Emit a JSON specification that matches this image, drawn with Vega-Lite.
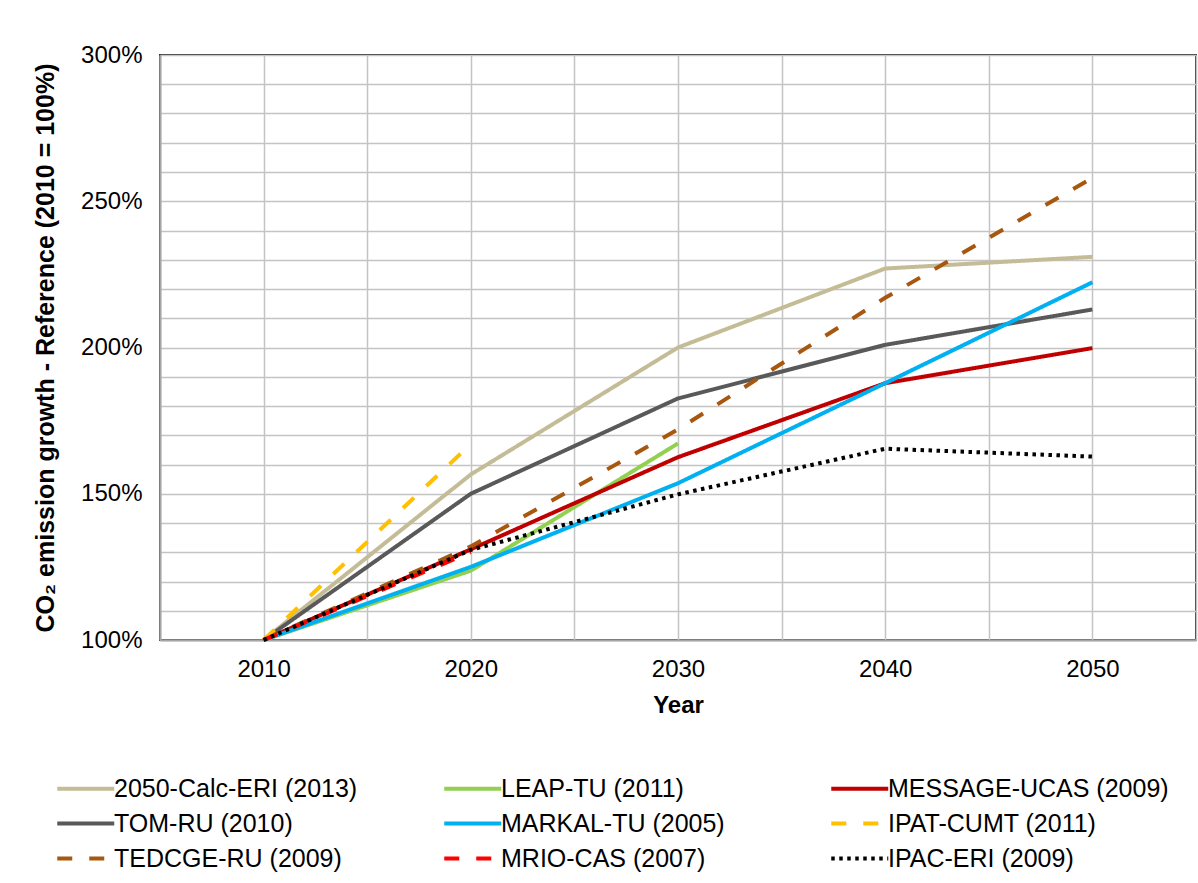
{
  "$schema": "https://vega.github.io/schema/vega-lite/v6.json",
  "width": 1036,
  "height": 585,
  "autosize": {"type": "none"},
  "padding": {"left": 160, "top": 55, "right": 2, "bottom": 243},
  "background": "white",
  "config": {
    "font": "Liberation Sans",
    "view": {"stroke": "#303030", "strokeWidth": 2}
  },
  "data": {
    "values": [
      {"model": "2050-Calc-ERI (2013)", "year": 2010, "value": 100},
      {"model": "2050-Calc-ERI (2013)", "year": 2020, "value": 156.6},
      {"model": "2050-Calc-ERI (2013)", "year": 2030, "value": 200},
      {"model": "2050-Calc-ERI (2013)", "year": 2040, "value": 227},
      {"model": "2050-Calc-ERI (2013)", "year": 2050, "value": 231},
      {"model": "LEAP-TU (2011)", "year": 2010, "value": 100},
      {"model": "LEAP-TU (2011)", "year": 2020, "value": 123.7},
      {"model": "LEAP-TU (2011)", "year": 2030, "value": 167.2},
      {"model": "MESSAGE-UCAS (2009)", "year": 2010, "value": 100},
      {"model": "MESSAGE-UCAS (2009)", "year": 2020, "value": 131},
      {"model": "MESSAGE-UCAS (2009)", "year": 2030, "value": 162.5},
      {"model": "MESSAGE-UCAS (2009)", "year": 2040, "value": 187.8},
      {"model": "MESSAGE-UCAS (2009)", "year": 2050, "value": 199.8},
      {"model": "TOM-RU (2010)", "year": 2010, "value": 100},
      {"model": "TOM-RU (2010)", "year": 2020, "value": 150},
      {"model": "TOM-RU (2010)", "year": 2030, "value": 182.6},
      {"model": "TOM-RU (2010)", "year": 2040, "value": 200.9},
      {"model": "TOM-RU (2010)", "year": 2050, "value": 213},
      {"model": "MARKAL-TU (2005)", "year": 2010, "value": 100},
      {"model": "MARKAL-TU (2005)", "year": 2020, "value": 125},
      {"model": "MARKAL-TU (2005)", "year": 2030, "value": 153.6},
      {"model": "MARKAL-TU (2005)", "year": 2040, "value": 187.8},
      {"model": "MARKAL-TU (2005)", "year": 2050, "value": 222.3},
      {"model": "IPAT-CUMT (2011)", "year": 2010, "value": 100},
      {"model": "IPAT-CUMT (2011)", "year": 2020, "value": 167},
      {"model": "TEDCGE-RU (2009)", "year": 2010, "value": 100},
      {"model": "TEDCGE-RU (2009)", "year": 2020, "value": 132},
      {"model": "TEDCGE-RU (2009)", "year": 2030, "value": 172},
      {"model": "TEDCGE-RU (2009)", "year": 2040, "value": 217},
      {"model": "TEDCGE-RU (2009)", "year": 2050, "value": 258},
      {"model": "MRIO-CAS (2007)", "year": 2010, "value": 100},
      {"model": "MRIO-CAS (2007)", "year": 2020, "value": 130},
      {"model": "IPAC-ERI (2009)", "year": 2010, "value": 100},
      {"model": "IPAC-ERI (2009)", "year": 2020, "value": 130.8},
      {"model": "IPAC-ERI (2009)", "year": 2030, "value": 149.8},
      {"model": "IPAC-ERI (2009)", "year": 2040, "value": 165.4},
      {"model": "IPAC-ERI (2009)", "year": 2050, "value": 162.7}
    ]
  },
  "mark": {"type": "line", "strokeWidth": 4},
  "encoding": {
    "x": {
      "field": "year",
      "type": "quantitative",
      "scale": {"domain": [2005, 2055], "nice": false, "zero": false},
      "axis": {
        "title": "Year",
        "titleFontSize": 24,
        "titleFontWeight": "bold",
        "titleColor": "#000000",
        "titlePadding": 12,
        "labelFontSize": 24,
        "labelColor": "#000000",
        "labelPadding": 17,
        "labelFlush": false,
        "labelOverlap": false,
        "ticks": false,
        "values": [2005, 2010, 2015, 2020, 2025, 2030, 2035, 2040, 2045, 2050, 2055],
        "labelExpr": "(datum.value % 10 === 0 && datum.value >= 2010 && datum.value <= 2050) ? '' + datum.value : ''",
        "gridColor": "#c4c4c4",
        "gridWidth": 1.5,
        "domainColor": "#a6a6a6",
        "domainWidth": 2
      }
    },
    "y": {
      "field": "value",
      "type": "quantitative",
      "scale": {"domain": [100, 300], "nice": false, "zero": false},
      "axis": {
        "title": "CO₂ emission growth - Reference (2010 = 100%)",
        "titleFontSize": 25,
        "titleFontWeight": "bold",
        "titleColor": "#000000",
        "titlePadding": 22,
        "labelFontSize": 24,
        "labelColor": "#000000",
        "labelPadding": 18,
        "labelFlush": false,
        "labelOverlap": false,
        "ticks": false,
        "values": [100, 110, 120, 130, 140, 150, 160, 170, 180, 190, 200, 210, 220, 230, 240, 250, 260, 270, 280, 290, 300],
        "labelExpr": "datum.value % 50 === 0 ? datum.value + '%' : ''",
        "gridColor": "#c4c4c4",
        "gridWidth": 1.5,
        "domainColor": "#a6a6a6",
        "domainWidth": 2
      }
    },
    "color": {
      "field": "model",
      "type": "nominal",
      "scale": {
        "domain": ["2050-Calc-ERI (2013)", "LEAP-TU (2011)", "MESSAGE-UCAS (2009)", "TOM-RU (2010)", "MARKAL-TU (2005)", "IPAT-CUMT (2011)", "TEDCGE-RU (2009)", "MRIO-CAS (2007)", "IPAC-ERI (2009)"],
        "range": ["#c4bc96", "#92d050", "#c00000", "#595959", "#00b0f0", "#ffc000", "#a8570f", "#ff0000", "#000000"]
      },
      "legend": {
        "title": null,
        "orient": "none",
        "direction": "horizontal",
        "legendX": -105,
        "legendY": 717,
        "columns": 3,
        "gridAlign": "all",
        "columnPadding": 41,
        "rowPadding": 5,
        "symbolType": "M-1,0H3",
        "symbolSize": 812,
        "symbolStrokeWidth": 4,
        "labelFontSize": 25,
        "labelLimit": 400,
        "labelOffset": 26,
        "labelColor": "#000000"
      }
    },
    "strokeDash": {
      "field": "model",
      "type": "nominal",
      "scale": {
        "domain": ["2050-Calc-ERI (2013)", "LEAP-TU (2011)", "MESSAGE-UCAS (2009)", "TOM-RU (2010)", "MARKAL-TU (2005)", "IPAT-CUMT (2011)", "TEDCGE-RU (2009)", "MRIO-CAS (2007)", "IPAC-ERI (2009)"],
        "range": [[1, 0], [1, 0], [1, 0], [1, 0], [1, 0], [15, 17], [15, 17], [15, 17], [3.5, 4.5]]
      }
    }
  }
}
